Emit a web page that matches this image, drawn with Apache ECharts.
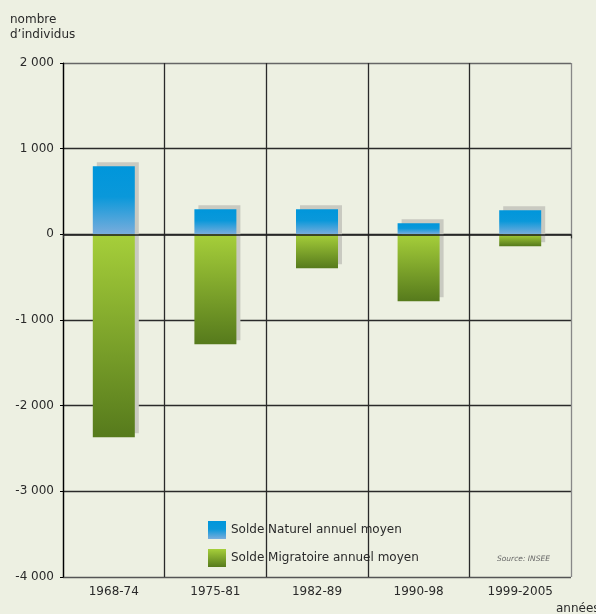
<!DOCTYPE html>
<html><head><meta charset="utf-8">
<script src="https://cdn.jsdelivr.net/npm/echarts@6/dist/echarts.min.js"></script>
<style>html,body{margin:0;padding:0;background:#edf0e2;}#c{width:596px;height:614px;}</style>
</head><body><div id="c"></div>
<script>
const categories = ['1968-74', '1975-81', '1982-89', '1990-98', '1999-2005'];
const soldeNaturel = [794, 292, 292, 128, 280];
const soldeMigratoire = [-2370, -1282, -397, -782, -138];
const yTicks = [-4000, -3000, -2000, -1000, 0, 1000, 2000];

const FONT = 'DejaVu Sans';
const blueGrad = new echarts.graphic.LinearGradient(0, 0, 0, 1, [
  {offset: 0, color: '#0096db'}, {offset: 0.45, color: '#0a98da'}, {offset: 1, color: '#7aaddc'}]);
const greenGrad = new echarts.graphic.LinearGradient(0, 0, 0, 1, [
  {offset: 0, color: '#a6cf3a'}, {offset: 1, color: '#567a1c'}]);

function fmt(v) {
  const a = Math.abs(v);
  let s = a >= 1000 ? Math.floor(a / 1000) + ' ' + String(a % 1000).padStart(3, '0') : String(a);
  return (v < 0 ? '-' : '') + s;
}

const shadowData = categories.map((c, i) => [i, soldeNaturel[i], soldeMigratoire[i]]);

const chart = echarts.init(document.getElementById('c'), null, {renderer: 'canvas'});
chart.setOption({
  backgroundColor: '#edf0e2',
  animation: false,
  textStyle: {fontFamily: FONT},
  grid: {left: 63, right: 25, top: 63, bottom: 37},
  legend: {
    left: 208, top: 521, padding: 0, orient: 'vertical', itemWidth: 18, itemHeight: 18, itemGap: 10,
    icon: 'rect',
    data: ['Solde Naturel annuel moyen', 'Solde Migratoire annuel moyen'],
    textStyle: {fontFamily: FONT, fontSize: 12, color: '#2a2a2a'}
  },
  xAxis: {
    type: 'category', data: categories,
    axisLine: {show: true, lineStyle: {color: '#555', width: 1}},
    axisTick: {show: true, length: 4, lineStyle: {color: '#333', width: 1.2}},
    axisLabel: {fontFamily: FONT, fontSize: 12, color: '#2a2a2a', margin: 9},
    splitLine: {show: true, interval: 0, lineStyle: {color: ['#111', '#2a2a2a', '#2a2a2a', '#2a2a2a', '#2a2a2a', '#888'], width: 1.3}}
  },
  yAxis: {
    type: 'value', min: -4000, max: 2000, interval: 1000,
    axisLine: {show: true, lineStyle: {color: '#000', width: 1.2}},
    axisTick: {show: true, length: 3, lineStyle: {color: '#000'}},
    axisLabel: {fontFamily: FONT, fontSize: 12, color: '#2a2a2a', margin: 9, formatter: v => fmt(v)},
    splitLine: {show: true, lineStyle: {color: ['#555', '#2a2a2a', '#2a2a2a', '#2a2a2a', '#222', '#2a2a2a', '#666'], width: 1.3}}
  },
  series: [
    {
      type: 'custom', name: 'ombre', z: 1, silent: true,
      data: shadowData,
      renderItem: function (params, api) {
        const p1 = api.coord([api.value(0), api.value(1)]);
        const p2 = api.coord([api.value(0), api.value(2)]);
        const w = 42;
        return {type: 'rect', shape: {x: p1[0] - w / 2 + 4, y: p1[1] - 4, width: w, height: p2[1] - p1[1]},
          style: {fill: '#c9cac1'}};
      }
    },
    {
      type: 'bar', name: 'Solde Naturel annuel moyen', stack: 'tot', barWidth: 42, z: 2,
      data: soldeNaturel, itemStyle: {color: blueGrad}
    },
    {
      type: 'bar', name: 'Solde Migratoire annuel moyen', stack: 'tot', barWidth: 42, z: 2,
      data: soldeMigratoire, itemStyle: {color: greenGrad},
      markLine: {silent: true, symbol: 'none', label: {show: false}, z: 5,
        lineStyle: {color: '#1a1a1a', width: 1.6, type: 'solid'}, data: [{yAxis: 0}]}
    }
  ],
  graphic: [
    {type: 'text', left: 10, top: 12, style: {text: 'nombre\nd\u2019individus', font: '12px "DejaVu Sans"', fill: '#2a2a2a', lineHeight: 15}},
    {type: 'text', left: 556, top: 603, style: {text: 'années', font: '12px "DejaVu Sans"', fill: '#2a2a2a'}},
    {type: 'text', left: 497, top: 555, style: {text: 'Source: INSEE', font: 'italic 7.5px "DejaVu Sans"', fill: '#666'}}
  ]
});
</script></body></html>
